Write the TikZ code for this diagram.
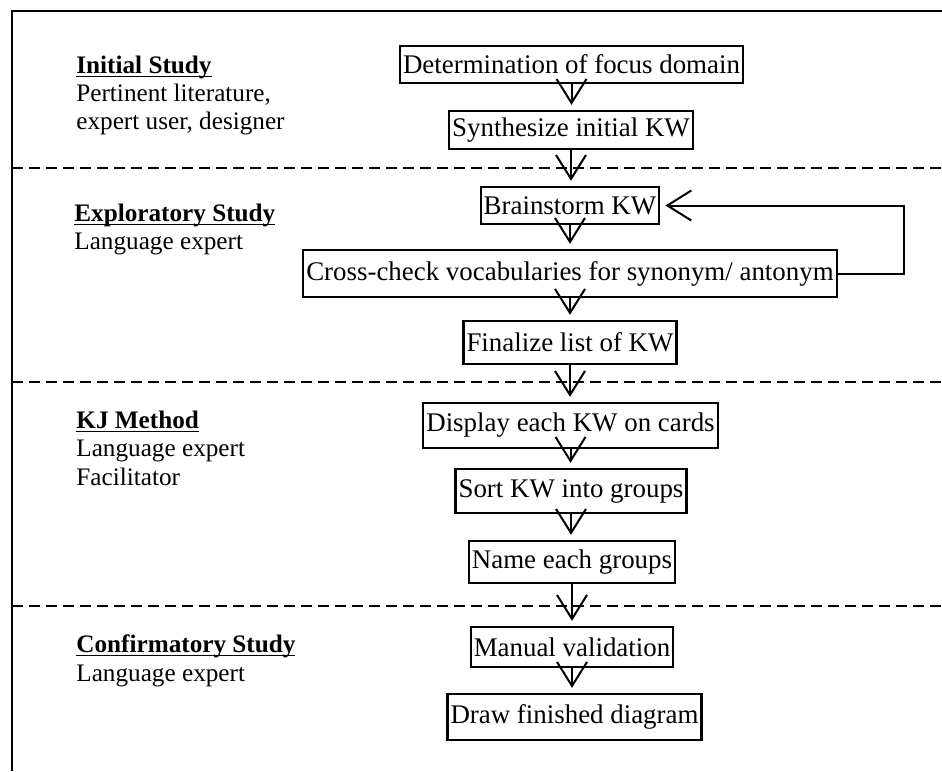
\documentclass[tikz,border=0pt]{standalone}
\usepackage{fontspec}
\setmainfont{Liberation Serif}
\usetikzlibrary{arrows.meta}

% bold heading with a thin rule set just under the baseline
\newsavebox\headbox
\newcommand\phasehead[1]{\sbox\headbox{\bfseries #1}\rlap{\rule[-2pt]{\wd\headbox}{0.75pt}}\usebox\headbox}

\begin{document}
\begin{tikzpicture}[x=0.5pt,y=-0.5pt,
  stepbox/.style={draw, line width=1.15pt, inner xsep=1.5pt, inner ysep=0pt,
    font=\fontsize{13.45}{15}\selectfont},
  flow/.style={line width=1pt, -{Straight Barb[length=12pt,width=15pt,line width=1pt]},
    shorten >=2.5pt},
  role/.style={anchor=base west, inner sep=0pt, font=\fontsize{12.6}{14}\selectfont},
  divider/.style={line width=1.4pt, dash pattern=on 5.5pt off 3pt},
  frame/.style={line width=1.35pt}]

\useasboundingbox (0,0) rectangle (942,771);

% outer frame (top and left edges)
\draw[frame] (12,771) -- (12,11) -- (942,11);

% phase separators
\draw[divider] (12,168) -- (942,168);
\draw[divider] (12,382) -- (942,382);
\draw[divider] (12,606) -- (942,606);

% phase labels
\node[role] (h1)  at (76,73)  {\phasehead{Initial Study}};
\node[role] (h1a) at (76,101) {Pertinent literature,};
\node[role] (h1b) at (76,129) {expert user, designer};

\node[role] (h2)  at (74,221) {\phasehead{Exploratory Study}};
\node[role] (h2a) at (74,249) {Language expert};

\node[role] (h3)  at (76,428) {\phasehead{KJ Method}};
\node[role] (h3a) at (76,456) {Language expert};
\node[role] (h3b) at (76,485) {Facilitator};

\node[role] (h4)  at (76,652) {\phasehead{Confirmatory Study}};
\node[role] (h4a) at (76,681) {Language expert};

% process steps
\node[stepbox, minimum height=18.5pt] (b1)  at (571.5,64.5) {Determination of focus domain};
\node[stepbox, minimum height=19pt]   (b2)  at (571,130)    {Synthesize initial KW};
\node[stepbox, minimum height=18.5pt] (b3)  at (570,205.5)  {Brainstorm KW};
\node[stepbox, minimum height=23.5pt] (b4)  at (570,273.5)  {Cross-check vocabularies for synonym/ antonym};
\node[stepbox, minimum height=21.5pt] (b5)  at (570,342.5)  {Finalize list of KW};
\node[stepbox, minimum height=22.5pt] (b6)  at (570.5,425.5) {Display each KW on cards};
\node[stepbox, minimum height=22pt]   (b7)  at (571,491)    {Sort KW into groups};
\node[stepbox, minimum height=21pt]   (b8)  at (572,562)    {Name each groups};
\node[stepbox, minimum height=20pt]   (b9)  at (572,647)    {Manual validation};
\node[stepbox, minimum height=23pt]   (b10) at (574.5,717)  {Draw finished diagram};

% flow between steps
\draw[flow] (b1.south) -- (b1.south |- b2.north);
\draw[flow] (b2.south) -- (b2.south |- b3.north);
\draw[flow] (b3.south) -- (b3.south |- b4.north);
\draw[flow] (b4.south) -- (b4.south |- b5.north);
\draw[flow] (b5.south) -- (b5.south |- b6.north);
\draw[flow] (b6.south) -- (b6.south |- b7.north);
\draw[flow] (b7.south) -- (b7.south |- b8.north);
\draw[flow] (b8.south) -- (b8.south |- b9.north);
\draw[flow] (b9.south) -- (b9.south |- b10.north);

% feedback from cross-check back to brainstorming
\draw[flow] (b4.east) -- ++(66,0) |- (b3.east);

\end{tikzpicture}
\end{document}
